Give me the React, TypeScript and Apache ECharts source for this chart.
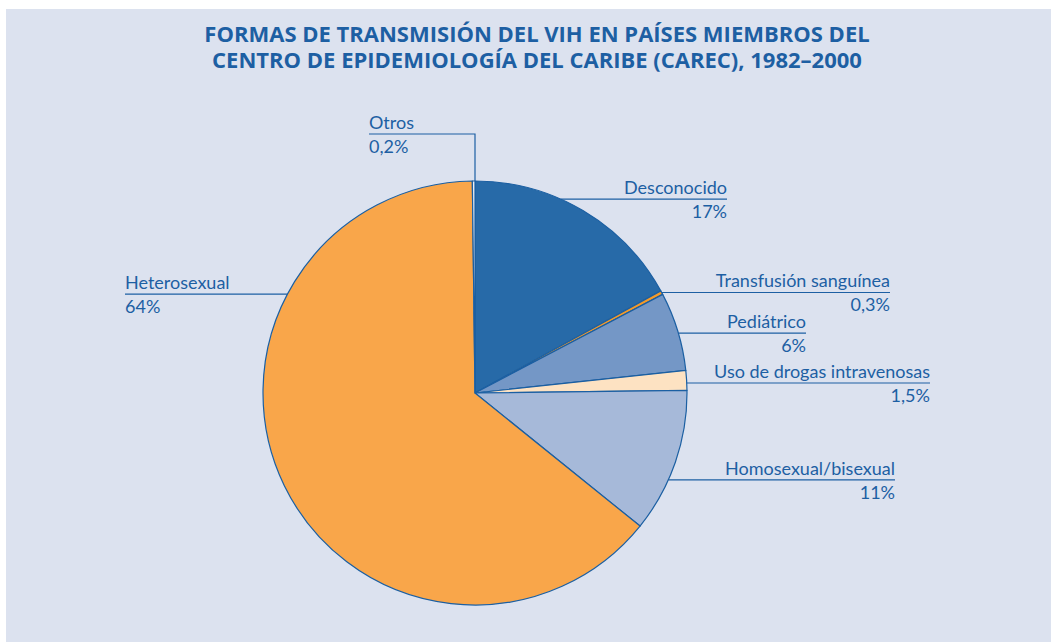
import React, { useEffect, useRef } from "react";
import * as echarts from "echarts";

// ---- data ----
const categories = [
  "Desconocido",
  "Transfusión sanguínea",
  "Pediátrico",
  "Uso de drogas intravenosas",
  "Homosexual/bisexual",
  "Heterosexual",
  "Otros",
];
const values = [17, 0.3, 6, 1.5, 11, 64, 0.2];
const titleLines = [
  "FORMAS DE TRANSMISIÓN DEL VIH EN PAÍSES MIEMBROS DEL",
  "CENTRO DE EPIDEMIOLOGÍA DEL CARIBE (CAREC), 1982–2000",
];

// ---- styles / layout ----
const sliceColors = ["#276aa8", "#f39a2a", "#7497c6", "#fde2c2", "#a6b9d9", "#f9a64a", "#eef0f4"];
const anchorAngles = [23.8, 61.7, 73.6, 87.3, 114.2, 297.8, 0]; // degrees clockwise from top, where the leader touches the rim
const labelEndX = [721, 884, 800, 924, 889, 119, 363];
const otrosElbowY = 125;

const BG = "#dce2ef";
const INK = "#1d5fa3";
const CX = 469;
const CY = 384;
const R = 212;
const FONT = "Lato, 'Open Sans', sans-serif";

function fmt(v: number) {
  return String(v).replace(".", ",") + "%";
}

export default function App() {
  const ref = useRef<HTMLDivElement>(null);
  useEffect(() => {
    if (!ref.current) return;
    const chart = echarts.init(ref.current, undefined, { renderer: "svg" });

    const graphics: any[] = [];
    categories.forEach((name, i) => {
      const th = (anchorAngles[i] * Math.PI) / 180;
      const px = CX + R * Math.sin(th);
      const py = CY - R * Math.cos(th);
      const endX = labelEndX[i];
      let ly: number;
      let pts: number[][];
      if (i === categories.length - 1) {
        ly = otrosElbowY;
        pts = [
          [endX, ly],
          [px, ly],
          [px, py],
        ];
      } else {
        ly = py;
        pts = [
          [px, py],
          [endX, py],
        ];
      }
      const align = endX > CX ? "right" : "left";
      graphics.push({
        type: "polyline",
        shape: { points: pts },
        style: { stroke: INK, lineWidth: 1.2, fill: null },
        z: 10,
      });
      graphics.push({
        type: "text",
        x: endX,
        y: ly - 3,
        style: {
          text: name,
          align,
          verticalAlign: "bottom",
          fill: INK,
          font: `18px ${FONT}`,
        },
        z: 10,
      });
      graphics.push({
        type: "text",
        x: endX,
        y: ly + 3,
        style: {
          text: fmt(values[i]),
          align,
          verticalAlign: "top",
          fill: INK,
          font: `18px ${FONT}`,
        },
        z: 10,
      });
    });

    const titleStyle = {
      fill: INK,
      font: `bold 22px 'Open Sans', Lato, sans-serif`,
      align: "center",
      verticalAlign: "middle",
    };
    titleLines.forEach((t, k) => {
      graphics.push({
        type: "text",
        x: 531,
        y: 24 + k * 25.5,
        style: { ...titleStyle, text: t },
        z: 10,
      });
    });

    chart.setOption({
      animation: false,
      backgroundColor: BG,
      series: [
        {
          type: "pie",
          center: [CX, CY],
          radius: R,
          startAngle: 90,
          clockwise: true,
          minAngle: 0,
          avoidLabelOverlap: false,
          label: { show: false },
          labelLine: { show: false },
          emphasis: { disabled: true },
          itemStyle: { borderColor: "#1b5fa2", borderWidth: 1.2 },
          data: categories.map((name, i) => ({
            name,
            value: values[i],
            itemStyle: { color: sliceColors[i] },
          })),
        },
      ],
      graphic: graphics,
    });
    return () => chart.dispose();
  }, []);

  return (
    <div style={{ position: "absolute", left: 0, top: 0, width: 1051, height: 642, background: "#fff" }}>
      <div ref={ref} style={{ position: "absolute", left: 6, top: 9, width: 1045, height: 633 }} />
    </div>
  );
}
